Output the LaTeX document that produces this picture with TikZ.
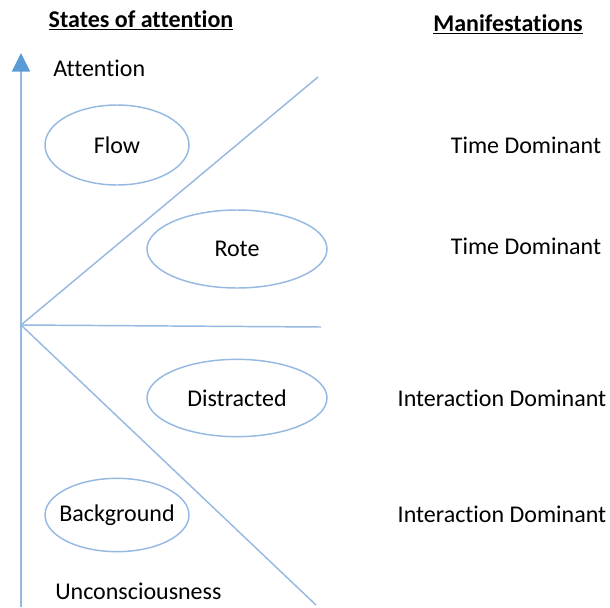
\documentclass[tikz,border=0pt]{standalone}
\usepackage{fontspec}
\setmainfont{Carlito}[Ligatures={NoCommon}]
\usetikzlibrary{arrows.meta,shapes.geometric}
\definecolor{linec}{RGB}{150,185,225}
\definecolor{arrc}{RGB}{91,155,213}
\begin{document}
\begin{tikzpicture}[x=0.75pt,y=-0.75pt,
  lbl/.style={font=\fontsize{18pt}{21pt}\selectfont, inner sep=0pt},
  hdr/.style={font=\fontsize{18pt}{21pt}\selectfont\bfseries, inner sep=0pt},
  oval/.style={ellipse, draw=linec, line width=1.1pt, inner sep=0pt, font=\fontsize{18pt}{21pt}\selectfont},
  axis/.style={draw=linec, line width=1.1pt}]
\useasboundingbox (0,0) rectangle (610,607);
% headers
\node[hdr] (h1) at (141,20) {\underline{States of attention}};
\node[hdr] (h2) at (508,24) {\underline{Manifestations}};
% axis
\coordinate (ab) at (21,607);
\coordinate (at) at (21,53);
\draw[draw=linec, line width=1.4pt, -{Triangle[length=14pt,width=13.5pt,color=arrc]}] (ab) -- (at);
% lines
\coordinate (O) at (21,325);
\coordinate (u) at (318,77);
\coordinate (m) at (321,327);
\coordinate (d) at (316,605);
\draw[axis] (O) -- (u);
\draw[axis] (O) -- (m);
\draw[axis] (O) -- (d);
% labels
\node[lbl, anchor=west] (att) at (53,68) {Attention};
\node[lbl, anchor=west] (unc) at (55,591) {Unconsciousness};
% ovals
\node[oval, minimum width=108pt, minimum height=60pt] (flow) at (117,145) {\makebox[0pt]{Flow}};
\node[oval, minimum width=135pt, minimum height=58.5pt] (rote) at (237,249) {\makebox[0pt]{Rote}};
\node[oval, minimum width=135pt, minimum height=58pt] (dist) at (237,398) {\makebox[0pt]{Distracted}};
\node[oval, minimum width=108pt, minimum height=55pt] (bg) at (117,515) {\makebox[0pt]{Background}};
% manifestations
\node[lbl] (m1) at (526,145) {Time Dominant};
\node[lbl] (m2) at (526,246) {Time Dominant};
\node[lbl] (m3) at (502,398) {Interaction Dominant};
\node[lbl] (m4) at (502,514) {Interaction Dominant};
\end{tikzpicture}
\end{document}
